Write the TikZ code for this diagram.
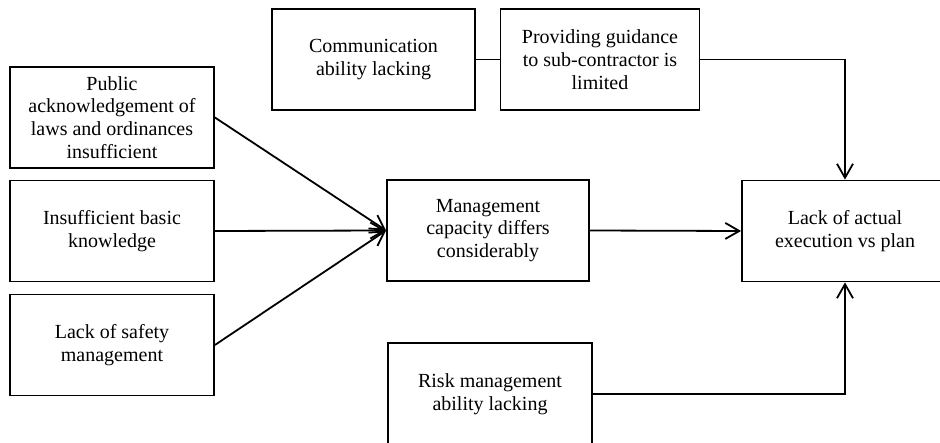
\documentclass[tikz,border=0pt]{standalone}
\usepackage{fontspec}
\setmainfont{Liberation Serif}
\usetikzlibrary{arrows.meta}
\begin{document}
\begin{tikzpicture}[x=1pt,y=-1pt,
  factor/.style={draw=black, line width=1.8pt, rectangle, inner sep=0pt,
    align=center, font=\fontsize{20}{22.7}\selectfont,
    minimum width=#1, minimum height=101pt},
  factor/.default=204pt,
  link/.style={line width=1.8pt, draw=black},
  flow/.style={link, -{Straight Barb[length=14pt,width=16pt,line width=1.8pt]}}]
\clip (0,0) rectangle (940,443);
\fill[white] (0,0) rectangle (940,443);

% causes on the left
\node[factor] (pub) at (112,117.5) {Public\\acknowledgement of\\laws and ordinances\\insufficient};
\node[factor] (basic) at (112,231) {Insufficient basic\\knowledge};
\node[factor] (safe) at (112,345) {Lack of safety\\management};

% upper chain
\node[factor=203pt] (comm) at (373.5,59.5) {Communication\\ability lacking};
\node[factor=199pt] (guide) at (600,59.5) {Providing guidance\\to sub-contractor is\\limited};

% middle and outcome
\node[factor=202pt] (mgmt) at (488,230.5) {Management\\capacity differs\\considerably};
\node[factor=206pt] (lack) at (845,231) {Lack of actual\\execution vs plan};

% lower cause
\node[factor, minimum height=102pt] (risk) at (490,394) {Risk management\\ability lacking};

% connectors
\draw[flow] (pub.east) -- (mgmt.west);
\draw[flow] (basic.east) -- (mgmt.west);
\draw[flow] (safe.east) -- (mgmt.west);
\draw[link] (comm.east) -- (guide.west);
\draw[flow] (guide.east) -| (lack.north);
\draw[flow] (mgmt.east) -- (lack.west);
\draw[flow] (risk.east) -| (lack.south);
\end{tikzpicture}
\end{document}
